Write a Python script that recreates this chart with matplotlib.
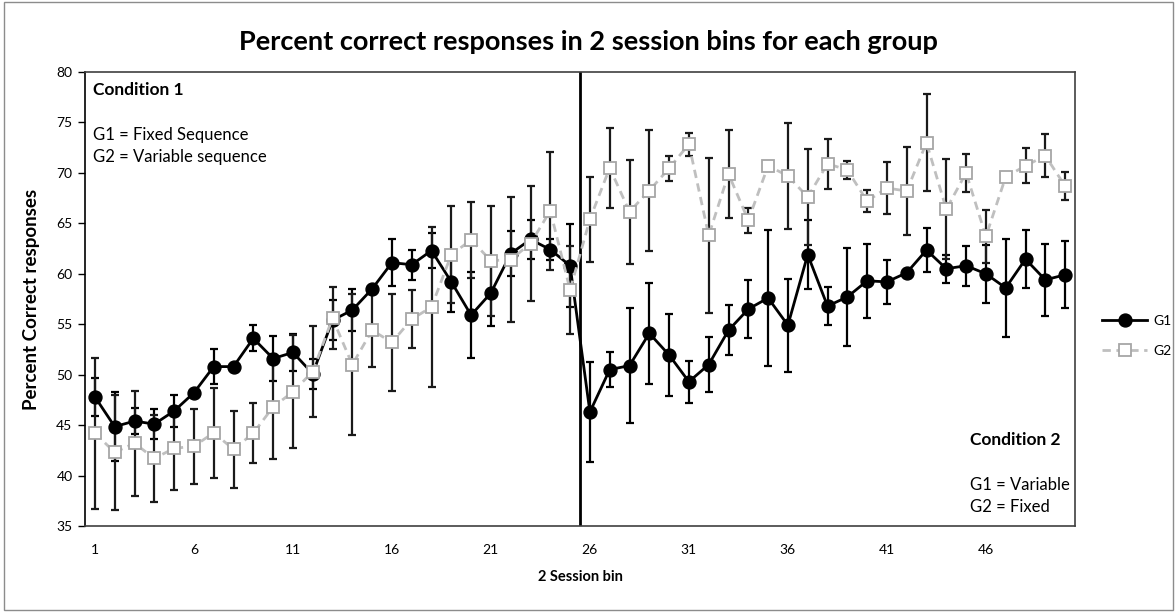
import numpy as np
import matplotlib
matplotlib.use("Agg")
import matplotlib.pyplot as plt
from matplotlib.patches import Rectangle

plt.rcParams['font.family'] = ['Lato', 'DejaVu Sans']

# 2 session bins
bins = np.arange(1, 51)

# G1 mean % correct and error
g1_mean = [47.8, 44.85, 45.4, 45.1, 46.4, 48.2, 50.8, 50.8, 53.6, 51.6,
           52.2, 50.1, 55.4, 56.4, 58.5, 61.1, 60.9, 62.3, 59.2, 55.9,
           58.1, 62.0, 63.4, 62.4, 60.8, 46.3, 50.5, 50.9, 54.1, 51.95,
           49.3, 51.0, 54.4, 56.5, 57.6, 54.9, 61.9, 56.8, 57.7, 59.3,
           59.2, 60.1, 62.35, 60.5, 60.8, 60.0, 58.6, 61.45, 59.4, 59.9]
g1_err = [1.9, 3.4, 1.3, 1.5, 1.6, 0.3, 1.7, 0.2, 1.3, 2.2,
          1.8, 1.5, 2.0, 2.1, 0.3, 2.3, 1.5, 1.7, 3.0, 4.25,
          3.3, 2.2, 1.9, 1.0, 4.1, 5.0, 1.7, 5.7, 5.0, 4.05,
          2.1, 2.7, 2.5, 2.9, 6.7, 4.6, 3.45, 1.9, 4.9, 3.65,
          2.2, 0.3, 2.15, 1.4, 2.0, 2.9, 4.85, 2.85, 3.6, 3.3]

# G2 mean % correct and error
g2_mean = [44.2, 42.3, 43.2, 41.7, 42.7, 42.9, 44.25, 42.6, 44.2, 46.8,
           48.3, 50.3, 55.6, 51.0, 54.4, 53.2, 55.5, 56.7, 61.9, 63.35,
           61.3, 61.4, 63.0, 66.25, 58.4, 65.4, 70.5, 66.15, 68.25, 70.45,
           72.85, 63.8, 69.9, 65.3, 70.7, 69.7, 67.6, 70.9, 70.3, 67.2,
           68.5, 68.2, 73.0, 66.4, 70.0, 63.7, 69.6, 70.7, 71.7, 68.7]
g2_err = [7.5, 5.7, 5.2, 4.3, 4.1, 3.7, 4.45, 3.8, 3.0, 5.2,
          5.6, 4.5, 3.1, 7.0, 3.6, 4.8, 2.9, 7.9, 4.8, 3.8,
          5.45, 6.2, 5.7, 5.85, 4.4, 4.2, 3.95, 5.15, 6.0, 1.25,
          1.15, 7.65, 4.35, 1.25, 0.3, 5.25, 4.75, 2.45, 0.9, 1.1,
          2.6, 4.4, 4.8, 4.95, 1.9, 2.65, 0.3, 1.75, 2.15, 1.4]

xtick_pos = [1, 6, 11, 16, 21, 26, 31, 36, 41, 46]

W, H = 1176, 613
fig = plt.figure(figsize=(W / 100, H / 100), dpi=100)
ax = fig.add_axes([85 / W, (H - 526) / H, 990 / W, 454 / H])

# error bars first, then the two series on top
ax.errorbar(bins, g1_mean, yerr=g1_err, fmt='none', ecolor='black',
            elinewidth=1.6, capsize=3, capthick=1.6, zorder=2)
ax.errorbar(bins, g2_mean, yerr=g2_err, fmt='none', ecolor='#1a1a1a',
            elinewidth=1.6, capsize=3, capthick=1.6, zorder=2)
ax.plot(bins, g1_mean, color='black', lw=2, marker='o', markersize=9.3,
        markerfacecolor='black', markeredgecolor='black', label='G1', zorder=3)
ax.plot(bins, g2_mean, color='#bfbfbf', lw=2, ls=(0, (3, 2)), marker='s',
        markersize=8.5, markerfacecolor='white', markeredgecolor='#a6a6a6',
        markeredgewidth=1.3, label='G2', zorder=4)

# condition switch
ax.axvline(25.5, color='black', lw=2, zorder=1)

ax.set_xlim(0.5, 50.5)
ax.set_ylim(35, 80)
ax.set_yticks(np.arange(35, 81, 5))
ax.set_xticks(xtick_pos)
ax.tick_params(axis='y', direction='out', length=5, width=1, labelsize=10, pad=4)
ax.tick_params(axis='x', length=0, labelsize=10, pad=13)
for side in ['top', 'right', 'bottom']:
    ax.spines[side].set_color('#404040')
    ax.spines[side].set_linewidth(1.2)
ax.spines['left'].set_color('black')
ax.spines['left'].set_linewidth(1.2)

ax.set_ylabel('Percent Correct responses', fontsize=13.5, fontweight='bold', labelpad=12)
ax.set_xlabel('2 Session bin', fontsize=10.5, fontweight='bold', labelpad=10)
fig.text(0.5, 1 - 42 / H, 'Percent correct responses in 2 session bins for each group',
         ha='center', va='center', fontsize=19.5, fontweight='bold')

# condition notes
ax.text(0.008, 0.960, 'Condition 1', transform=ax.transAxes, fontsize=12.5,
        fontweight='bold', va='center')
ax.text(0.008, 0.862, 'G1 = Fixed Sequence', transform=ax.transAxes,
        fontsize=12, va='center')
ax.text(0.008, 0.812, 'G2 = Variable sequence', transform=ax.transAxes,
        fontsize=12, va='center')
ax.text(0.894, 0.189, 'Condition 2', transform=ax.transAxes, fontsize=12.5,
        fontweight='bold', va='center')
ax.text(0.894, 0.090, 'G1 = Variable', transform=ax.transAxes,
        fontsize=12, va='center')
ax.text(0.894, 0.042, 'G2 = Fixed', transform=ax.transAxes,
        fontsize=12, va='center')

ax.legend(loc='center left', bbox_to_anchor=(1.015, 0.418), frameon=False,
          fontsize=10, handlelength=3.2, labelspacing=1.3, handletextpad=0.5)

fig.add_artist(Rectangle((4 / W, 3 / H), 1169 / W, 1 - 5 / H,
                         transform=fig.transFigure, fill=False,
                         edgecolor='#8c8c8c', lw=1))

fig.savefig('out.png', dpi=100)
